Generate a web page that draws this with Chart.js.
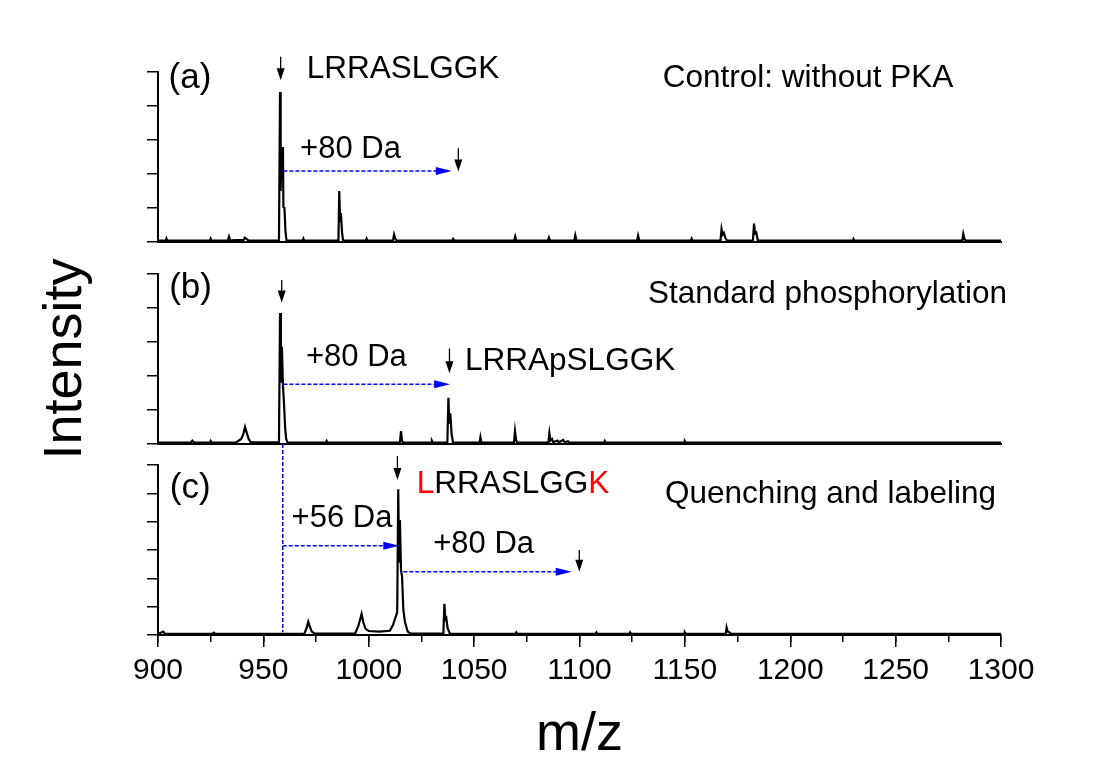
<!DOCTYPE html>
<html>
<head>
<meta charset="utf-8">
<script src="https://cdn.jsdelivr.net/npm/chart.js@4.4.1/dist/chart.umd.min.js"></script>
<style>
  html, body { margin: 0; padding: 0; background: #fff; overflow: hidden; width: 1103px; height: 758px; }
  canvas { position: absolute; left: 0; }
</style>
</head>
<body>
<canvas id="panelA" width="1103" height="252" style="top:0px"></canvas>
<canvas id="panelB" width="1103" height="215" style="top:252px"></canvas>
<canvas id="panelC" width="1103" height="330" style="top:440px"></canvas>
<script>
// spectra: m/z and intensity (in y-tick units)
const mzA = [900, 903.7, 904, 904.4, 924.6, 925, 925.4, 933.2, 933.7, 934.3, 940.6, 941.3, 942.2, 943, 957.4, 957.9, 958.2, 958.6, 959.3, 959.5, 960.0, 960.5, 961.0,
  968.6, 969, 969.4, 985.6, 986.0, 986.4, 986.8, 987.3, 987.8, 998.6, 999, 999.4, 1011.5, 1012, 1012.6, 1013.3, 1039.6, 1040, 1040.4,
  1069, 1069.5, 1070, 1085, 1085.5, 1086, 1097.5, 1098, 1098.6, 1127.3, 1127.8, 1128.4, 1152.8, 1153.2, 1153.6, 1166.9, 1167.4, 1167.9,
  1168.5, 1169.2, 1170, 1182.3, 1182.8, 1183.3, 1183.9, 1184.6, 1229.6, 1230, 1230.4, 1281.6, 1282.1, 1282.7, 1283.5, 1300];
const intA = [0.04, 0.04, 0.1, 0.04, 0.04, 0.1, 0.04, 0.04, 0.16, 0.05, 0.06, 0.13, 0.08, 0.04, 0.05, 4.41, 1.5, 2.76, 2.76, 1.03, 1.0, 0.3, 0.05,
  0.04, 0.1, 0.04, 0.04, 1.5, 0.6, 0.85, 0.3, 0.04, 0.04, 0.1, 0.04, 0.04, 0.22, 0.1, 0.04, 0.04, 0.09, 0.04,
  0.04, 0.16, 0.04, 0.04, 0.13, 0.04, 0.04, 0.2, 0.04, 0.04, 0.19, 0.04, 0.04, 0.1, 0.04, 0.04, 0.38, 0.22,
  0.27, 0.12, 0.04, 0.04, 0.54, 0.25, 0.28, 0.04, 0.04, 0.09, 0.04, 0.04, 0.24, 0.08, 0.04, 0.04];

const mzB = [900, 915.5, 916.3, 917.2, 924.6, 925, 925.4, 937, 939.5, 940.5, 941.3, 942, 943, 944, 957.4, 957.9, 958.3, 958.8, 959.3, 959.7, 960.3, 960.8, 961.5,
  979.6, 980, 980.4, 1014.8, 1015.3, 1015.8, 1016.5, 1029.6, 1030, 1030.4, 1037.3, 1037.8, 1038.2, 1038.7, 1039.3, 1040, 1052.6, 1053, 1053.5,
  1068.9, 1069.4, 1069.9, 1070.5, 1085.2, 1085.7, 1086.2, 1087, 1087.6, 1089.5, 1090.2, 1092.3, 1093, 1094.5, 1095.2,
  1111.6, 1112, 1112.4, 1149.6, 1150, 1150.4, 1300];
const intB = [0.04, 0.04, 0.1, 0.04, 0.04, 0.09, 0.04, 0.05, 0.15, 0.3, 0.5, 0.35, 0.15, 0.05, 0.05, 3.85, 1.8, 2.86, 1.7, 1.3, 0.5, 0.15, 0.04,
  0.04, 0.09, 0.04, 0.04, 0.38, 0.08, 0.04, 0.04, 0.09, 0.04, 0.05, 1.36, 0.6, 0.9, 0.3, 0.04, 0.04, 0.2, 0.04,
  0.04, 0.38, 0.12, 0.04, 0.04, 0.32, 0.1, 0.15, 0.05, 0.1, 0.05, 0.12, 0.05, 0.08, 0.04,
  0.04, 0.09, 0.04, 0.04, 0.08, 0.04, 0.04];

const mzC = [900, 902.5, 903.2, 925.8, 926.5, 927.2, 969.5, 970.5, 971.3, 972, 973, 974.5, 993.5, 995, 996.6, 997.4, 998.5, 1000, 1005,
  1010, 1011.5, 1013.5, 1014.0, 1014.4, 1014.8, 1015.3, 1015.8, 1016.4, 1017.2, 1018.5, 1020, 1035.4, 1035.9, 1036.3, 1036.8, 1037.4, 1038.5,
  1069.6, 1070, 1070.4, 1107.6, 1108, 1108.4, 1123.6, 1124, 1124.4, 1149.6, 1150, 1150.4, 1169.4, 1169.8, 1170.3, 1171, 1172, 1300];
const intC = [0.04, 0.12, 0.05, 0.04, 0.08, 0.04, 0.05, 0.25, 0.47, 0.3, 0.12, 0.05, 0.05, 0.3, 0.74, 0.45, 0.22, 0.14, 0.12,
  0.15, 0.35, 0.8, 5.14, 2.6, 4.06, 2.3, 2.06, 0.9, 0.45, 0.12, 0.05, 0.05, 1.1, 0.55, 0.6, 0.25, 0.05,
  0.04, 0.09, 0.04, 0.04, 0.09, 0.04, 0.04, 0.09, 0.04, 0.04, 0.09, 0.04, 0.04, 0.26, 0.12, 0.1, 0.04, 0.04];

const xLabels = [900, 950, 1000, 1050, 1100, 1150, 1200, 1250, 1300];

// labels and arrows, placed in data units of each panel
const notesA = [
  { kind: 'text', x: 905.0, y: 4.52, text: '(a)', size: 35 },
  { kind: 'text', x: 970.6, y: 4.81, text: 'LRRASLGGK', size: 31.5 },
  { kind: 'text', x: 1139.5, y: 4.57, text: 'Control: without PKA', size: 31.5 },
  { kind: 'text', x: 967.4, y: 2.46, text: '+80 Da' },
  { kind: 'down', x: 958.2, y1: 5.45, y2: 4.76 },
  { kind: 'down', x: 1042.5, y1: 2.76, y2: 2.07 },
  { kind: 'shift', x1: 959.5, x2: 1039.4, y: 2.09 }
];
const notesB = [
  { kind: 'text', x: 905.3, y: 4.29, text: '(b)', size: 35 },
  { kind: 'text', x: 970.2, y: 2.29, text: '+80 Da' },
  { kind: 'text', x: 1045.7, y: 2.18, text: 'LRRApSLGGK', size: 31.5 },
  { kind: 'text', x: 1132.5, y: 4.14, text: 'Standard phosphorylation', size: 31.5 },
  { kind: 'down', x: 958.7, y1: 4.82, y2: 4.16 },
  { kind: 'down', x: 1038.3, y1: 2.81, y2: 2.08 },
  { kind: 'shift', x1: 959.5, x2: 1038.6, y: 1.76 }
];
const notesC = [
  { kind: 'text', x: 905.6, y: 4.84, text: '(c)', size: 35 },
  { kind: 'text', x: 1022.8, y: 5.0, size: 31.5, parts: [['L', '#ff0000'], ['RRASLGG', '#000'], ['K', '#ff0000']] },
  { kind: 'text', x: 1140.6, y: 4.65, text: 'Quenching and labeling', size: 31.5 },
  { kind: 'text', x: 963.4, y: 3.82, text: '+56 Da' },
  { kind: 'text', x: 1030.6, y: 2.88, text: '+80 Da' },
  { kind: 'down', x: 1013.6, y1: 6.32, y2: 5.47 },
  { kind: 'down', x: 1099.9, y1: 3.0, y2: 2.23 },
  { kind: 'vline', x: 959.2, y1: 6.74, y2: 0.1 },
  { kind: 'shift', x1: 959.2, x2: 1014.5, y: 3.15 },
  { kind: 'shift', x1: 1016.4, x2: 1096.3, y: 2.23 }
];

Chart.defaults.font.family = '"Liberation Sans", Arial, sans-serif';
Chart.defaults.color = '#000';

function makeMarks(items) {
  return {
    id: 'marks',
    afterDraw(chart) {
      const ctx = chart.ctx;
      const px = v => chart.scales.x.getPixelForValue(v);
      const py = v => chart.scales.y.getPixelForValue(v);
      ctx.save();
      items.forEach(it => {
        if (it.kind === 'text') {
          ctx.font = (it.size || 31) + 'px "Liberation Sans", Arial, sans-serif';
          ctx.textBaseline = 'alphabetic';
          ctx.textAlign = 'left';
          let x = px(it.x);
          const parts = it.parts || [[it.text, '#000']];
          parts.forEach(p => {
            ctx.fillStyle = p[1];
            ctx.fillText(p[0], x, py(it.y));
            x += ctx.measureText(p[0]).width;
          });
        } else if (it.kind === 'down') {
          const x = px(it.x), t = py(it.y1), b = py(it.y2);
          ctx.strokeStyle = '#000';
          ctx.lineWidth = 1.3;
          ctx.setLineDash([]);
          ctx.beginPath();
          ctx.moveTo(x, t);
          ctx.lineTo(x, b - 6);
          ctx.stroke();
          ctx.fillStyle = '#000';
          ctx.beginPath();
          ctx.moveTo(x - 4, b - 12);
          ctx.lineTo(x + 4, b - 12);
          ctx.lineTo(x, b);
          ctx.closePath();
          ctx.fill();
        } else if (it.kind === 'shift') {
          const x1 = px(it.x1), x2 = px(it.x2), y = py(it.y);
          ctx.strokeStyle = '#0000ff';
          ctx.lineWidth = 1.5;
          ctx.setLineDash([4, 2]);
          ctx.beginPath();
          ctx.moveTo(x1, y);
          ctx.lineTo(x2 - 14, y);
          ctx.stroke();
          ctx.setLineDash([]);
          ctx.fillStyle = '#0000ff';
          ctx.beginPath();
          ctx.moveTo(x2 - 16, y - 4);
          ctx.lineTo(x2, y);
          ctx.lineTo(x2 - 16, y + 4);
          ctx.closePath();
          ctx.fill();
        } else if (it.kind === 'vline') {
          const x = px(it.x);
          ctx.strokeStyle = '#0000ff';
          ctx.lineWidth = 1.5;
          ctx.setLineDash([4, 2]);
          ctx.beginPath();
          ctx.moveTo(x, py(it.y1));
          ctx.lineTo(x, py(it.y2));
          ctx.stroke();
        }
      });
      ctx.restore();
    }
  };
}

function makePanel(id, mz, intensity, yMax, notes, pad, bottomAxis, yTitle) {
  const points = mz.map((m, i) => ({ x: m, y: intensity[i] }));
  const scales = {
    y: {
      min: 0, max: yMax,
      ticks: { display: false, stepSize: 1 },
      grid: { display: true, drawOnChartArea: false, drawTicks: true, tickLength: 11, color: '#000', lineWidth: 1.5 },
      border: { display: true, color: '#000', width: 2 },
      title: yTitle ? { display: true, text: yTitle, font: { size: 54, lineHeight: 1.2 }, padding: 0, color: '#000' } : { display: false },
      afterFit(s) { s.width = 124; }
    },
    x: {
      type: 'linear', min: 900, max: 1300, weight: 1,
      ticks: { display: false, stepSize: 50 },
      grid: { display: false },
      border: { display: true, color: '#000', width: 2 },
      afterFit(s) { s.height = 0; }
    }
  };
  if (bottomAxis) {
    scales.x.ticks = {
      display: true, stepSize: 50, padding: 6, maxRotation: 0,
      font: { size: 30 },
      callback: v => xLabels.includes(v) ? String(v) : ''
    };
    scales.x.grid = { display: true, drawOnChartArea: false, drawTicks: true, tickLength: 12, color: '#000', lineWidth: 1.5 };
    scales.x.title = { display: true, text: 'm/z', font: { size: 54, lineHeight: 1.2 }, padding: { top: 0, bottom: 2 }, color: '#000' };
    scales.x.afterFit = s => { s.height = 135; };
    scales.xMinor = {
      type: 'linear', position: 'bottom', min: 900, max: 1300, weight: 0,
      ticks: { display: false, stepSize: 25 },
      grid: { display: true, drawOnChartArea: false, drawTicks: true, tickLength: 7, color: '#000', lineWidth: 1.5 },
      border: { display: false },
      afterFit(s) { s.height = 0; }
    };
  }
  return new Chart(document.getElementById(id).getContext('2d'), {
    type: 'line',
    data: {
      datasets: [{
        data: points,
        borderColor: '#000',
        borderWidth: 2.2,
        fill: false,
        pointRadius: 0,
        tension: 0
      }]
    },
    options: {
      responsive: false,
      animation: false,
      layout: { padding: pad },
      plugins: { legend: { display: false }, tooltip: { enabled: false } },
      scales: scales
    },
    plugins: [makeMarks(notes)]
  });
}

makePanel('panelA', mzA, intA, 5, notesA, { left: 34, right: 102, top: 72, bottom: 10 }, false, null);
makePanel('panelB', mzB, intB, 5, notesB, { left: 34, right: 102, top: 22, bottom: 23 }, false, 'Intensity');
makePanel('panelC', mzC, intC, 6, notesC, { left: 34, right: 102, top: 25, bottom: 0 }, true, null);
</script>
</body>
</html>
